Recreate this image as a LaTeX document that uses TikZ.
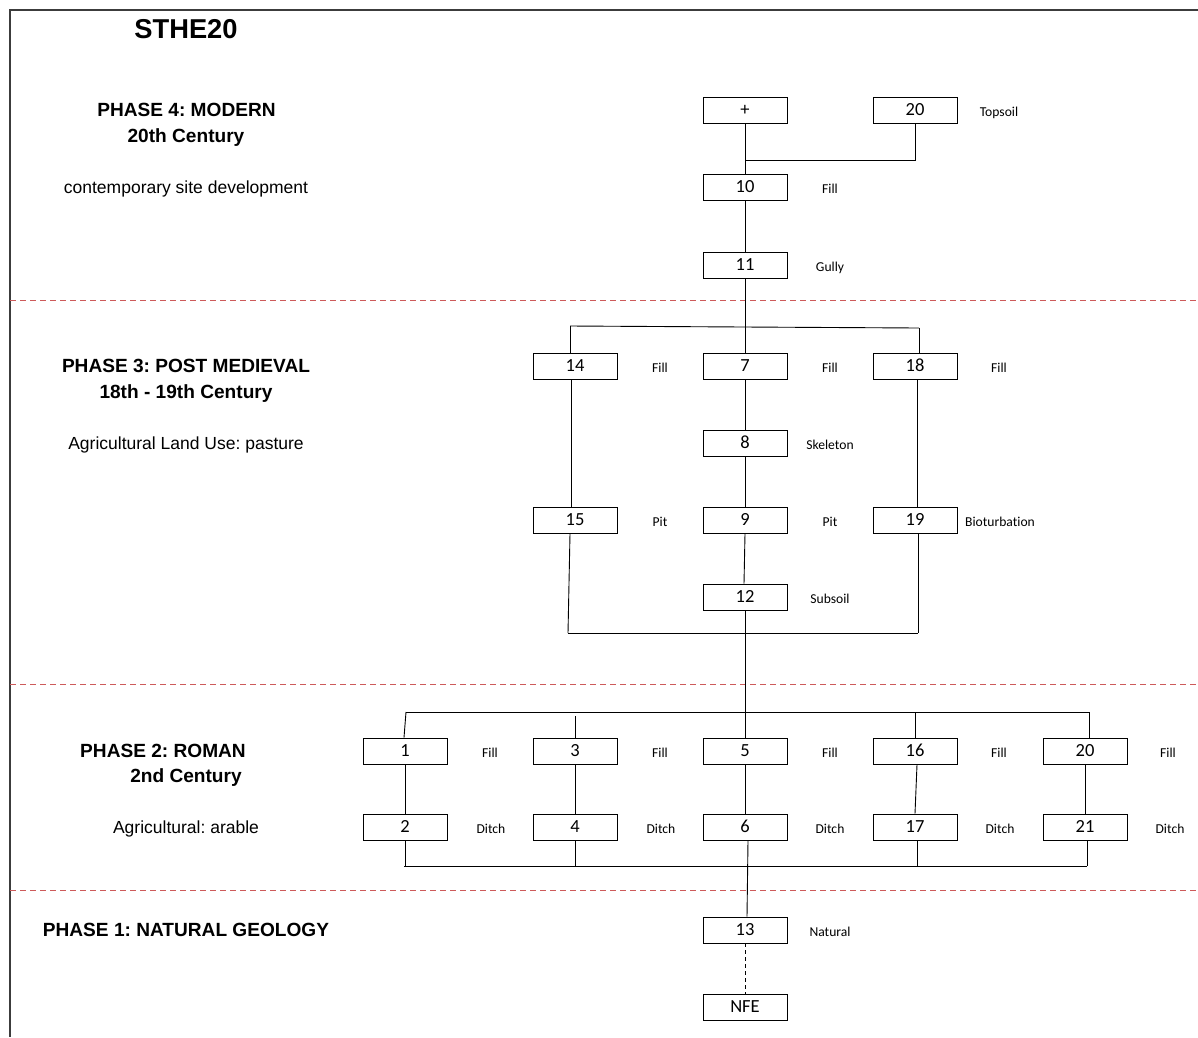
\documentclass[tikz,border=0pt]{standalone}
\usepackage{fontspec}
\setmainfont{Liberation Sans}
\newfontfamily\calfont[Ligatures=NoCommon]{Carlito}
\definecolor{phasered}{RGB}{205,90,90}
\definecolor{framegray}{RGB}{60,60,60}
\frenchspacing
\begin{document}
\begin{tikzpicture}[x=1pt,y=-1pt,
  unitbox/.style={draw, line width=0.9pt, minimum width=84pt, minimum height=26pt, inner sep=0pt,
    text height=11.7pt, text depth=0pt, font=\calfont\fontsize{18.5}{20}\selectfont},
  lab/.style={font=\calfont\fontsize{13.6}{15}\selectfont, inner sep=0pt, text height=8.6pt, text depth=0pt},
  phasehead/.style={font=\bfseries\fontsize{19.1}{21}\selectfont, inner sep=0pt, text height=13.7pt, text depth=0pt},
  phasetxt/.style={font=\fontsize{17.5}{20}\selectfont, inner sep=0pt, text height=12.6pt, text depth=0pt},
  link/.style={line width=0.9pt},
  divider/.style={phasered, line width=1pt, dash pattern=on 6pt off 4pt}]
\useasboundingbox (0,0) rectangle (1198,1037);
% frame
\draw[framegray, line width=1.2pt] (1198,10) -- (10,10) -- (10,1037);
% dividers
\draw[divider] (10,300) -- (1198,300);
\draw[divider] (10,684) -- (1198,684);
\draw[divider] (10,890) -- (1198,890);
% phase texts
\node[font=\bfseries\fontsize{27.3}{30}\selectfont, inner sep=0pt, text height=19.6pt, text depth=0pt] (title) at (186,28.5) {STHE20};
\node[phasehead] (p4a) at (186.5,110) {PHASE 4: MODERN};
\node[phasehead] (p4b) at (186,136) {20th Century};
\node[phasetxt] (p4c) at (186,187) {contemporary site development};
\node[phasehead] (p3a) at (186,366) {PHASE 3: POST MEDIEVAL};
\node[phasehead] (p3b) at (186,392) {18th - 19th Century};
\node[phasetxt] (p3c) at (186,443) {Agricultural Land Use: pasture};
\node[phasehead] (p2a) at (163,751) {PHASE 2: ROMAN};
\node[phasehead] (p2b) at (186,776) {2nd Century};
\node[phasetxt] (p2c) at (186,827) {Agricultural: arable};
\node[phasehead] (p1a) at (186,930) {PHASE 1: NATURAL GEOLOGY};
% units
\node[unitbox] (plus) at (745,110) {+};
\node[unitbox] (u20t) at (915,110) {20};
\node[lab] (l20t) at (999,112) {Topsoil};
\node[unitbox] (u10) at (745,187) {10};
\node[lab] (l10) at (830,189) {Fill};
\node[unitbox] (u11) at (745,265) {11};
\node[lab] (l11) at (830,267) {Gully};
\node[unitbox] (u14) at (575,366) {14};
\node[lab] (l14) at (660,368) {Fill};
\node[unitbox] (u7) at (745,366) {7};
\node[lab] (l7) at (830,368) {Fill};
\node[unitbox] (u18) at (915,366) {18};
\node[lab] (l18) at (999,368) {Fill};
\node[unitbox] (u8) at (745,443) {8};
\node[lab] (l8) at (830,445) {Skeleton};
\node[unitbox] (u15) at (575,520) {15};
\node[lab] (l15) at (660,522) {Pit};
\node[unitbox] (u9) at (745,520) {9};
\node[lab] (l9) at (830,522) {Pit};
\node[unitbox] (u19) at (915,520) {19};
\node[lab] (l19) at (1000,522) {Bioturbation};
\node[unitbox] (u12) at (745,597) {12};
\node[lab] (l12) at (830,599) {Subsoil};
\node[unitbox] (u1) at (405,751) {1};
\node[lab] (l1) at (490,753) {Fill};
\node[unitbox] (u3) at (575,751) {3};
\node[lab] (l3) at (660,753) {Fill};
\node[unitbox] (u5) at (745,751) {5};
\node[lab] (l5) at (830,753) {Fill};
\node[unitbox] (u16) at (915,751) {16};
\node[lab] (l16) at (999,753) {Fill};
\node[unitbox] (u20) at (1085,751) {20};
\node[lab] (l20) at (1168,753) {Fill};
\node[unitbox] (u2) at (405,827) {2};
\node[lab] (l2) at (491,829) {Ditch};
\node[unitbox] (u4) at (575,827) {4};
\node[lab] (l4) at (661,829) {Ditch};
\node[unitbox] (u6) at (745,827) {6};
\node[lab] (l6) at (830,829) {Ditch};
\node[unitbox] (u17) at (915,827) {17};
\node[lab] (l17) at (1000,829) {Ditch};
\node[unitbox] (u21) at (1085,827) {21};
\node[lab] (l21) at (1170,829) {Ditch};
\node[unitbox] (u13) at (745,930) {13};
\node[lab] (l13) at (830,932) {Natural};
\node[unitbox] (nfe) at (745,1007) {NFE};
% junction coordinates
\coordinate (j4) at (745,160);
\coordinate (b3L) at (570,326);
\coordinate (b3R) at (919,328);
\coordinate (c3L) at (568,633);
\coordinate (c3R) at (918,633);
\coordinate (b2L) at (406,712);
\coordinate (b2R) at (1089,712);
\coordinate (c2L) at (404,866);
\coordinate (c2R) at (1087,866);
% phase 4 links
\draw[link] (plus) -- (u10);
\draw[link] (u20t.south) |- (j4);
\draw[link] (u10) -- (u11);
\draw[link] (u11) -- (u7);
% phase 3 links
\draw[link] (b3L) -- (b3R);
\draw[link] (b3L) -- (b3L |- u14.north);
\draw[link] (b3R) -- (b3R |- u18.north);
\draw[link] ([xshift=-4pt]u14.south) -- ([xshift=-4pt]u15.north);
\draw[link] (u7) -- (u8);
\draw[link] (u8) -- (u9);
\draw[link] (u9.south) -- ([xshift=-1pt]u12.north);
\draw[link] ([xshift=2pt]u18.south) -- ([xshift=2pt]u19.north);
\draw[link] ([xshift=-5pt]u15.south) -- (c3L);
\draw[link] ([xshift=3pt]u19.south) -- (c3R);
\draw[link] (c3L) -- (c3R);
\draw[link] (u12) -- (u5);
% phase 2 links
\draw[link] (b2L) -- (b2R);
\draw[link] (b2L) -- ([xshift=-1pt]u1.north);
\draw[link] (u3.north) -- ++(0,-22);
\draw[link] (u16.north) -- ++(0,-26);
\draw[link] (b2R) -- ([xshift=4pt]u20.north);
\draw[link] (u1) -- (u2);
\draw[link] (u3) -- (u4);
\draw[link] (u5) -- (u6);
\draw[link] ([xshift=2pt]u16.south) -- (u17.north);
\draw[link] (u20) -- (u21);
\draw[link] (u2.south) -- (u2.south |- c2L);
\draw[link] (u4.south) -- (u4.south |- c2L);
\draw[link] ([xshift=2pt]u17.south) -- ([xshift=2pt]u17.south |- c2L);
\draw[link] ([xshift=2pt]u21.south) -- (c2R);
\draw[link] (c2L) -- (c2R);
% phase 1 links
\draw[link] ([xshift=3pt]u6.south) -- ([xshift=2pt]u13.north);
\draw[line width=0.9pt, dash pattern=on 4pt off 3pt] (u13) -- (nfe);
\end{tikzpicture}
\end{document}
